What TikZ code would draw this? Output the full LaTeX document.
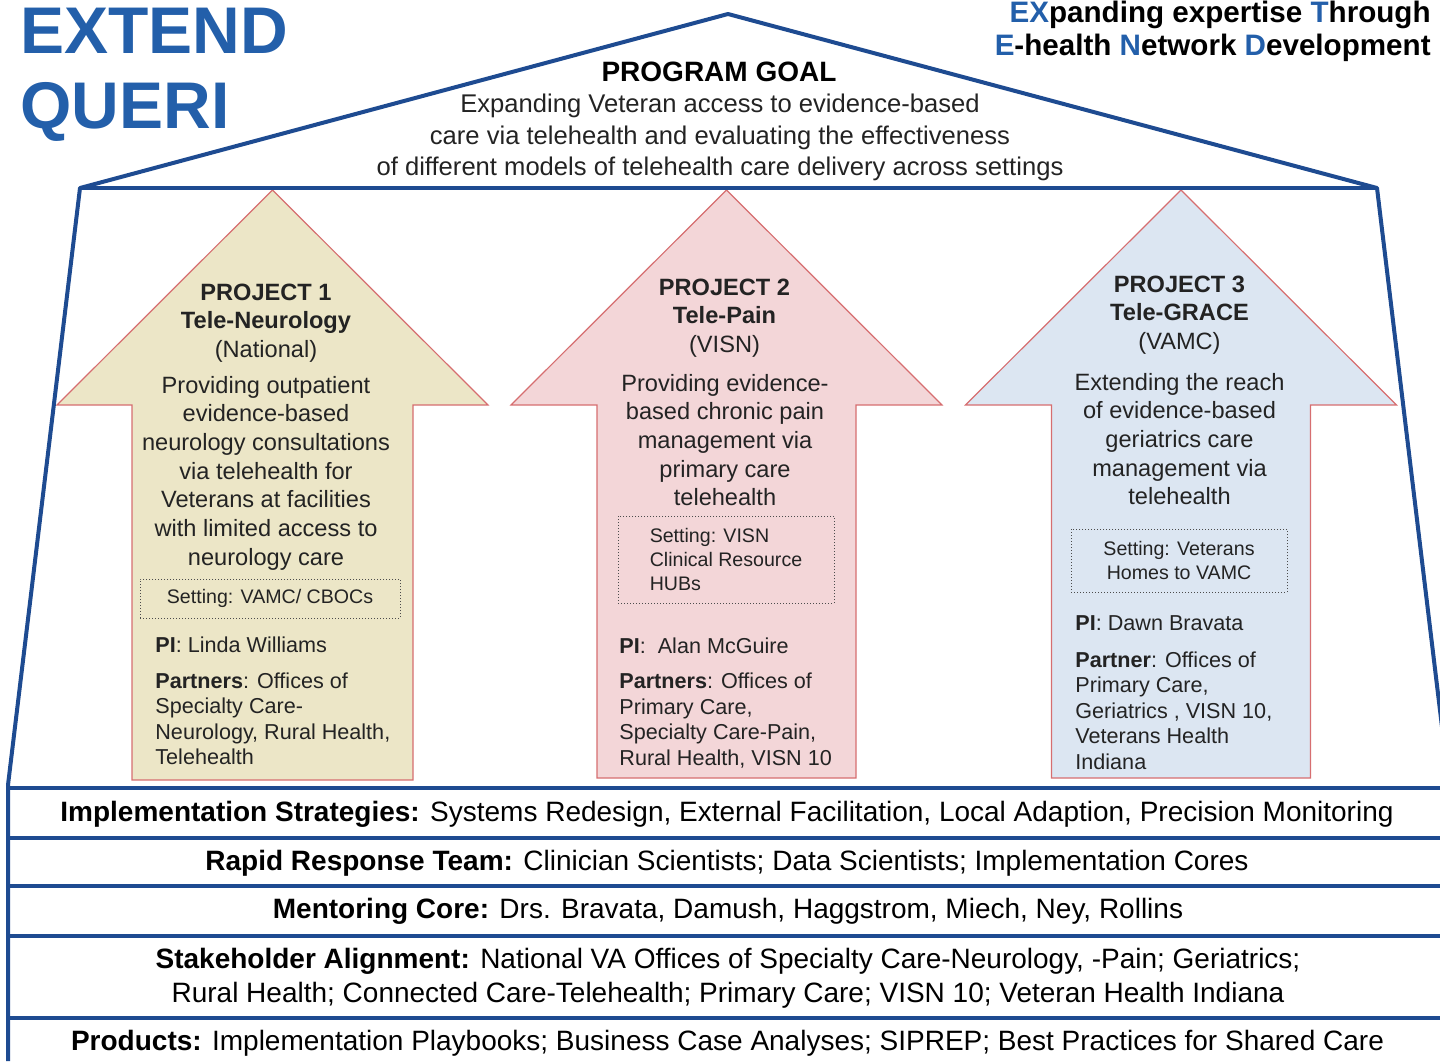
\documentclass[tikz,border=0pt]{standalone}
\usepackage{fontspec}
\setmainfont{Liberation Sans}
\usetikzlibrary{positioning}

\definecolor{houseblue}{RGB}{30,75,145}
\definecolor{titleblue}{RGB}{35,95,170}
\definecolor{tanfill}{RGB}{236,230,199}
\definecolor{pinkfill}{RGB}{243,214,216}
\definecolor{bluefill}{RGB}{220,230,242}
\definecolor{arrowline}{RGB}{214,110,112}
\definecolor{inktext}{RGB}{35,35,35}

\newcommand{\fsz}[2]{\fontsize{#1}{#2}\selectfont}
\newcommand{\hl}[1]{\textcolor{titleblue}{#1}}

\begin{document}
\begin{tikzpicture}[x=0.5pt,y=-0.5pt]
    \tikzset{
        wall/.style={draw=houseblue, line width=2pt, line join=round},
        band/.style={draw=houseblue, line width=1.6pt},
        arrowbody/.style={draw=arrowline, line width=0.6pt},
        bandtext/.style={inner sep=0pt, align=center, font=\fsz{14}{17}, text=black},
        projhead/.style={inner sep=0pt, align=center, font=\fsz{11.8}{14.25}, text=inktext},
        projtext/.style={inner sep=0pt, align=center, font=\fsz{11.8}{14.35}, text=inktext},
        settingbox/.style={draw=gray!60!black, densely dotted, line width=0.5pt,
            inner sep=0pt, align=center, font=\fsz{9.8}{12}, text=inktext},
        pitext/.style={inner sep=0pt, align=left, anchor=west, font=\fsz{10.8}{12.75}, text=inktext}
    }
    \clip (0,0) rectangle (1440,1061);

    % arrows
    \foreach \cx/\sw/\bot/\fillcol in {272.5/140.5/780/tanfill, 726.5/129.5/778/pinkfill, 1181/129.5/778/bluefill}
        \draw[arrowbody, fill=\fillcol] (\cx,190) -- (\cx+215.5,405) -- (\cx+\sw,405) -- (\cx+\sw,\bot)
            -- (\cx-\sw,\bot) -- (\cx-\sw,405) -- (\cx-215.5,405) -- cycle;

    % house and bands
    \draw[wall] (8,1061) -- (8,785) -- (80,188) -- (728,14) -- (1377,188) -- (1449,785);
    \draw[wall] (80,188) -- (1377,188);
    \foreach \y in {788,838,886,936,1018}
        \draw[band] (8,\y) -- (1440,\y);

    % titles
    \node[inner sep=0pt, anchor=base west, font=\fsz{33}{36}\bfseries, text=titleblue] (extend) at (20,53) {EXTEND};
    \node[inner sep=0pt, anchor=base west, font=\fsz{33}{36}\bfseries, text=titleblue] (queri) at (20,128) {QUERI};
    \node[inner sep=0pt, anchor=east, align=right, font=\fsz{14.8}{16.5}\bfseries] (acronym) at (1431,31.5)
        {\hl{EX}panding expertise \hl{T}hrough\\ \hl{E}-health \hl{N}etwork \hl{D}evelopment};
    \node[inner sep=0pt, font=\fsz{14}{16}\bfseries] (goal) at (719,72) {PROGRAM GOAL};
    \node[inner sep=0pt, align=center, font=\fsz{12.8}{15.75}, text=inktext] (goaltext) at (720,137.5)
        {Expanding Veteran access to evidence-based\\ care via telehealth and evaluating the effectiveness\\
         of different models of telehealth care delivery across settings};

    % project 1
    \node[projhead] (p1head) at (266,323) {\textbf{PROJECT 1}\\ \textbf{Tele-Neurology}\\ (National)};
    \node[projtext] (p1text) at (266,473) {Providing outpatient\\ evidence-based\\ neurology consultations\\
        via telehealth for\\ Veterans at facilities\\ with limited access to\\ neurology care};
    \node[settingbox, minimum width=130pt, minimum height=19.5pt] (p1set) at (270,598.5) {Setting: VAMC/ CBOCs};
    \node[pitext] (p1pi) at (155,645) {\textbf{PI}: Linda Williams};
    \node[pitext] (p1partners) at (155,719) {\textbf{Partners}: Offices of\\ Specialty Care-\\ Neurology, Rural Health,\\ Telehealth};

    % project 2
    \node[projhead] (p2head) at (724.5,318) {\textbf{PROJECT 2}\\ \textbf{Tele-Pain}\\ (VISN)};
    \node[projtext] (p2text) at (725,440) {Providing evidence-\\ based chronic pain\\ management via\\
        primary care\\ telehealth};
    \node[settingbox, align=left, minimum width=108pt, minimum height=43.5pt] (p2set) at (726,559.5)
        {Setting: VISN\\ Clinical Resource\\ HUBs};
    \node[pitext] (p2pi) at (619,646) {\textbf{PI}:\ \ Alan McGuire};
    \node[pitext] (p2partners) at (619,720.5) {\textbf{Partners}: Offices of\\ Primary Care,\\ Specialty Care-Pain,\\ Rural Health, VISN 10};

    % project 3
    \node[projhead] (p3head) at (1179.5,315) {\textbf{PROJECT 3}\\ \textbf{Tele-GRACE}\\ (VAMC)};
    \node[projtext] (p3text) at (1179.5,439) {Extending the reach\\ of evidence-based\\ geriatrics care\\
        management via\\ telehealth};
    \node[settingbox, minimum width=108pt, minimum height=31.5pt] (p3set) at (1179,560.5)
        {Setting: Veterans\\ Homes to VAMC};
    \node[pitext] (p3pi) at (1075,623) {\textbf{PI}: Dawn Bravata};
    \node[pitext] (p3partners) at (1075,710.5) {\textbf{Partner}: Offices of\\ Primary Care,\\ Geriatrics , VISN 10,\\
        Veterans Health\\ Indiana};

    % bands
    \node[bandtext] (strategies) at (727,814) {\textbf{Implementation Strategies:} Systems Redesign, External Facilitation, Local Adaption, Precision Monitoring};
    \node[bandtext] (rapid) at (727,863) {\textbf{Rapid Response Team:} Clinician Scientists; Data Scientists; Implementation Cores};
    \node[bandtext] (mentoring) at (728,911) {\textbf{Mentoring Core:} Drs. Bravata, Damush, Haggstrom, Miech, Ney, Rollins};
    \node[bandtext] (stakeholder) at (728,978) {\textbf{Stakeholder Alignment:} National VA Offices of Specialty Care-Neurology, -Pain; Geriatrics;\\
        Rural Health; Connected Care-Telehealth; Primary Care; VISN 10; Veteran Health Indiana};
    \node[bandtext] (products) at (727.5,1043) {\textbf{Products:} Implementation Playbooks; Business Case Analyses; SIPREP; Best Practices for Shared Care};
\end{tikzpicture}
\end{document}
